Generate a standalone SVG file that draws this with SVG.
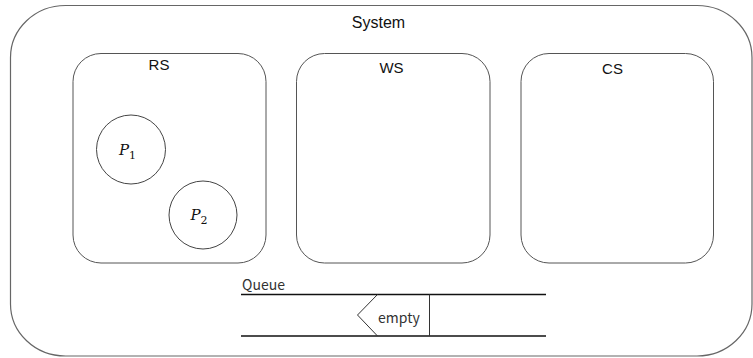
<svg xmlns="http://www.w3.org/2000/svg" width="753" height="358" viewBox="0 0 753 358">
  <style>
    .frame { fill: #ffffff; stroke: #666666; stroke-width: 1.2; }
    .box { fill: #ffffff; stroke: #555555; stroke-width: 1; }
    .proc { fill: #ffffff; stroke: #444444; stroke-width: 1; }
    .label { font-family: "Liberation Sans", Arial, sans-serif; font-size: 15px; fill: #111111; text-anchor: middle; }
    .math { font-family: "DejaVu Serif", "Liberation Serif", serif; font-style: italic; font-size: 15px; fill: #111111; }
    .sub { font-family: "DejaVu Serif", "Liberation Serif", serif; font-size: 11px; fill: #111111; }
    .qtext { font-family: "Noto Sans CJK JP", "Noto Sans", sans-serif; font-size: 14px; fill: #333333; }
    .qline { stroke: #111111; stroke-width: 1.5; fill: none; }
    .qthin { stroke: #333333; stroke-width: 1; fill: none; }
  </style>

  <!-- outer system boundary -->
  <g id="system">
    <rect class="frame" x="10.5" y="5.5" width="741.5" height="350.5" rx="55" ry="52"/>
    <text class="label" x="378.5" y="28" style="font-size:16px">System</text>
  </g>

  <!-- station boxes -->
  <g id="rs">
    <rect class="box" x="73" y="53.5" width="193" height="209.5" rx="28" ry="28"/>
    <text class="label" x="159" y="70">RS</text>
  </g>
  <g id="ws">
    <rect class="box" x="296.5" y="53.5" width="193.5" height="209.5" rx="28" ry="28"/>
    <text class="label" x="391.5" y="73">WS</text>
  </g>
  <g id="cs">
    <rect class="box" x="521" y="53.5" width="192.5" height="209.5" rx="28" ry="28"/>
    <text class="label" x="612.5" y="74">CS</text>
  </g>

  <!-- processes inside RS -->
  <g id="p1">
    <circle class="proc" cx="131" cy="149.5" r="34.5"/>
    <text class="math" x="119" y="155">P</text>
    <text class="sub" x="129" y="158.5">1</text>
  </g>
  <g id="p2">
    <circle class="proc" cx="203" cy="215" r="34"/>
    <text class="math" x="190.5" y="220">P</text>
    <text class="sub" x="200.5" y="224">2</text>
  </g>

  <!-- queue -->
  <g id="queue">
    <text class="qtext" x="242" y="290">Queue</text>
    <line class="qline" x1="241" y1="294.5" x2="546" y2="294.5"/>
    <line class="qline" x1="241" y1="336" x2="546" y2="336"/>
    <polyline class="qthin" points="377.5,294.5 357.5,315 377.5,336"/>
    <line class="qthin" x1="429.5" y1="294.5" x2="429.5" y2="336"/>
    <text class="qtext" x="378" y="323">empty</text>
  </g>
</svg>
